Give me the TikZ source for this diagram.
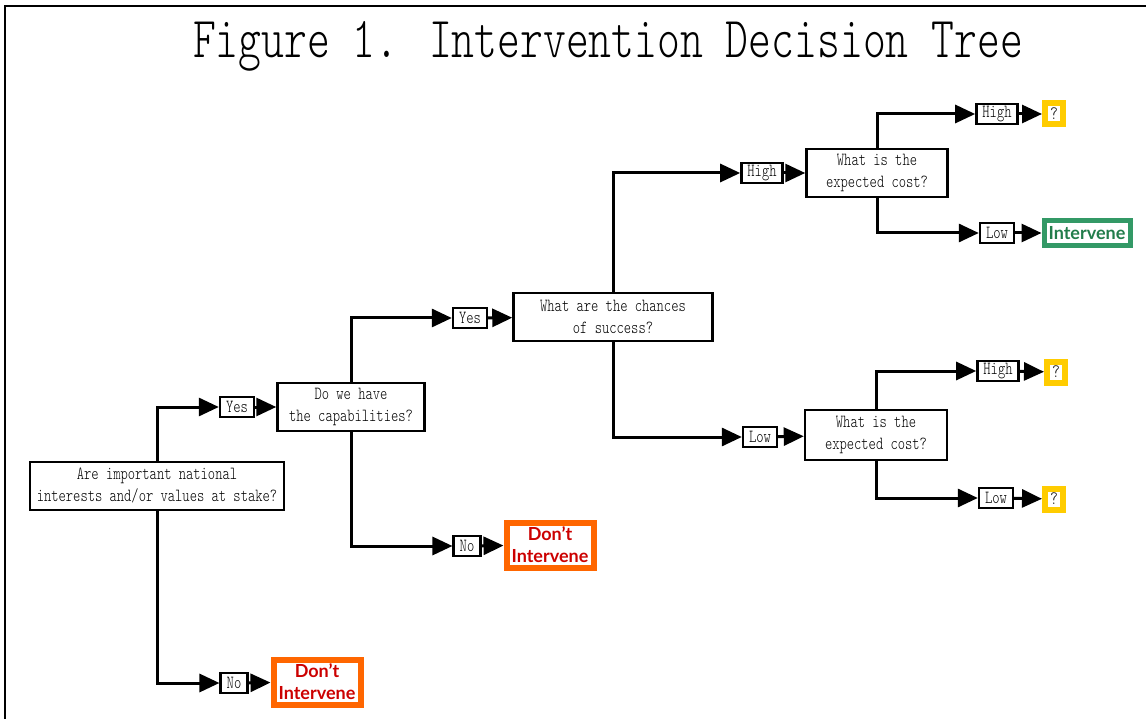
\documentclass[tikz,border=0pt]{standalone}
\usepackage{fontspec}
\usetikzlibrary{arrows.meta}
\newfontfamily\boxfont{lmmonolt10-regular.otf}[FakeStretch=0.75]
\newfontfamily\endfont{Lato}
\definecolor{dorange}{RGB}{255,102,0}
\definecolor{dred}{RGB}{204,0,0}
\definecolor{igreen}{RGB}{51,153,102}
\definecolor{tgreen}{RGB}{34,125,75}
\definecolor{qyellow}{RGB}{255,204,0}
\begin{document}
\begin{tikzpicture}[x=1pt,y=-1pt,>={Triangle[length=20pt,width=18pt]},line join=miter,
	ques/.style={draw,line width=2.5pt,align=center,font=\boxfont\fontsize{18.5}{22}\selectfont,inner sep=2pt,minimum height=48pt},
	ans/.style={draw,line width=2.5pt,font=\boxfont\fontsize{18.5}{18}\selectfont,inner xsep=6pt,inner ysep=1pt,minimum height=20pt},
	dont/.style={draw=dorange,line width=6pt,fill=white,align=center,text=dred,font=\endfont\bfseries\fontsize{18}{22}\selectfont,minimum width=87pt,minimum height=45pt,inner sep=1pt},
	unsure/.style={draw=qyellow,line width=6pt,fill=white,font=\boxfont\fontsize{19}{19}\selectfont,minimum width=18pt,minimum height=21pt,inner sep=0pt},
	branch/.style={line width=3pt,->}]
	\useasboundingbox (0,0) rectangle (1146,719);
	\draw[line width=2pt] (5,719)--(5,6)--(1146,6);
	\node (title) at (608,46) {\boxfont\fontsize{58}{66}\selectfont Figure 1. Intervention Decision Tree};
	% questions
	\node[ques,minimum width=254pt] (q1) at (157,486) {Are important national\\interests and/or values at stake?};
	\node[ques,minimum width=147pt] (q2) at (351,407) {Do we have\\the capabilities?};
	\node[ques,minimum width=199pt] (q3) at (613,317) {What are the chances\\of success?};
	\node[ques,minimum width=141pt] (q4) at (877,173) {What is the\\expected cost?};
	\node[ques,minimum width=142pt,minimum height=50pt] (q5) at (876,435) {What is the\\expected cost?};
	% answers
	\node[ans] (yes1) at (237,407) {Yes};
	\node[ans] (no1) at (234,683) {No};
	\node[ans] (yes2) at (470,318) {Yes};
	\node[ans] (no2) at (467,546) {No};
	\node[ans] (high1) at (762,173) {High};
	\node[ans] (low1) at (760,437) {Low};
	\node[ans] (high2) at (997,114) {High};
	\node[ans] (low2) at (997,233) {Low};
	\node[ans] (high3) at (998,371) {High};
	\node[ans] (low3) at (996,498) {Low};
	% outcomes
	\node[dont] (stop1) at (550,545) {Don’t\\Intervene};
	\node[dont] (stop2) at (317,682) {Don’t\\Intervene};
	\node[draw=igreen,line width=5pt,fill=white,text=tgreen,font=\endfont\bfseries\fontsize{18}{20}\selectfont,minimum width=86pt,minimum height=25pt,inner sep=1pt] (go) at (1087,233) {Intervene};
	\node[unsure] (open1) at (1054,114) {?};
	\node[unsure] (open2) at (1056,372) {?};
	\node[unsure] (open3) at (1054,499) {?};
	% connectors
	\draw[branch] (q1.north)|-(yes1.west);
	\draw[branch] (q1.south)|-(no1.west);
	\draw[branch] (yes1)--(q2);
	\draw[branch] (no1)--(stop2);
	\draw[branch] (q2.north)|-(yes2.west);
	\draw[branch] (q2.south)|-(no2.west);
	\draw[branch] (yes2)--(q3);
	\draw[branch] (no2)--(stop1);
	\draw[branch] (q3.north)|-(high1.west);
	\draw[branch] (q3.south)|-(low1.west);
	\draw[branch] (high1)--(q4);
	\draw[branch] (low1)--(q5);
	\draw[branch] (q4.north)|-(high2.west);
	\draw[branch] (q4.south)|-(low2.west);
	\draw[branch] (high2)--(open1);
	\draw[branch] (low2)--(go);
	\draw[branch] (q5.north)|-(high3.west);
	\draw[branch] (q5.south)|-(low3.west);
	\draw[branch] (high3)--(open2);
	\draw[branch] (low3)--(open3);
\end{tikzpicture}
\end{document}
